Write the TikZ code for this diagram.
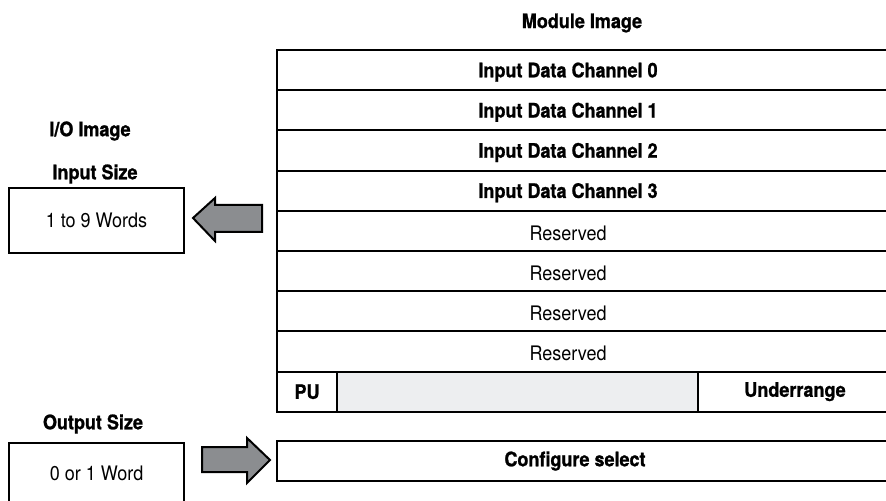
\documentclass[tikz,border=0pt]{standalone}
\usepackage{fontspec}
\setmainfont[FakeStretch=0.9,BoldFeatures={FakeBold=1}]{TeX Gyre Heros}
\usepackage{xcolor}
\usepackage{tikz}
\usetikzlibrary{positioning}
\definecolor{padgray}{HTML}{EDEEF0}
\definecolor{arrowgray}{HTML}{8B8D90}

\begin{document}
\begin{tikzpicture}[x=0.5pt,y=-0.5pt,
	every node/.style={inner sep=0pt,outer sep=0pt,font=\fontsize{10}{12}\selectfont},
	cell/.style={draw,line width=1pt,minimum height=20.1pt},
	row/.style={cell,minimum width=307.5pt,anchor=north west},
	title/.style={font=\fontsize{10}{12}\selectfont\bfseries},
	sizebox/.style={draw,line width=1pt,minimum width=87.5pt,anchor=north west},
	fatarrow/.style={draw,line width=1pt,fill=arrowgray,line join=miter}]
	\useasboundingbox (0,0) rectangle (886,501);
	\clip (0,0) rectangle (886,501);
	\node[title] (modimg) at (582,23) {Module Image};
	\foreach \i/\txt/\w in {0/Input Data Channel 0/\bfseries,1/Input Data Channel 1/\bfseries,
		2/Input Data Channel 2/\bfseries,3/Input Data Channel 3/\bfseries,
		4/Reserved/\mdseries,5/Reserved/\mdseries,6/Reserved/\mdseries,7/Reserved/\mdseries}
		\node[row,label={[xshift=-8.25pt,yshift=-1pt,font=\fontsize{10}{12}\selectfont\w]center:\txt}] (row\i) at (277,{50+40.2*\i}) {};
	\node[cell,anchor=north west,minimum width=30pt,font=\fontsize{10}{12}\selectfont\bfseries] (pu) at (277,371.6) {PU};
	\node[cell,fill=padgray,minimum width=180.5pt,right=0pt of pu] (pad) {};
	\node[cell,minimum width=97pt,right=0pt of pad,font=\fontsize{10}{12}\selectfont\bfseries] (under) {Underrange};
	\node[row,minimum height=20pt,label={[xshift=-4.75pt,font=\fontsize{10}{12}\selectfont\bfseries]center:Configure select}] (config) at (277,441) {};
	
	\node[title] (ioimg) at (90,131) {I/O Image};
	\node[title] (insize) at (95,174) {Input Size};
	\node[sizebox,minimum height=32.5pt] (inbox) at (9,188) {1 to 9 Words};
	\node[title] (outsize) at (93,424) {Output Size};
	\node[sizebox,minimum height=30pt] (outbox) at (9,443) {0 or 1 Word};
	
	\draw[fatarrow] (262,205) -- (215,205) -- (215,198) -- (193,218) -- (215,241) -- (215,232) -- (262,232) -- cycle;
	\draw[fatarrow] (202,447) -- (247,447) -- (247,438) -- (270,460) -- (247,483) -- (247,472) -- (202,472) -- cycle;
\end{tikzpicture}
\end{document}
